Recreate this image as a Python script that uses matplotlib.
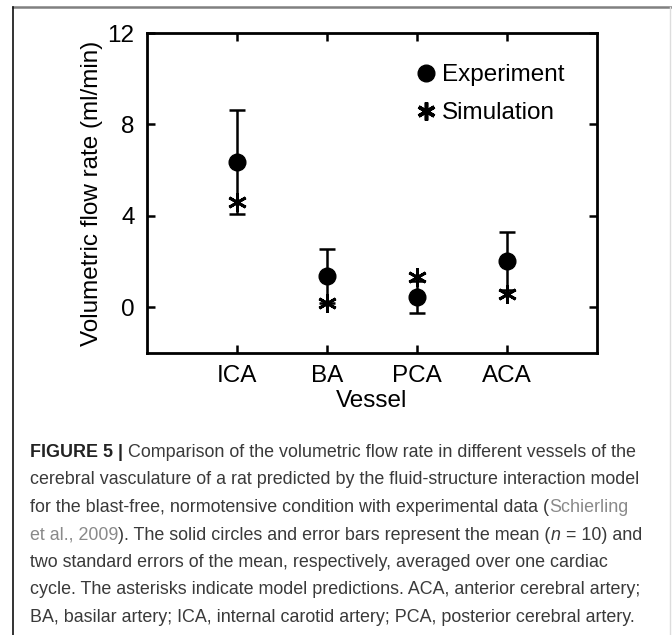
import matplotlib
matplotlib.use("Agg")
import matplotlib.pyplot as plt
from matplotlib.lines import Line2D
from matplotlib import font_manager

vessels = ["ICA", "BA", "PCA", "ACA"]
exp_mean = [6.35, 1.36, 0.45, 2.03]
exp_err = [2.28, 1.18, 0.70, 1.27]
sim_vals = [4.60, 0.20, 1.33, 0.60]
y_ticks = [0, 4, 8, 12]

caption_lines = [
    [("FIGURE 5 |", "bold", "#222222", "normal"),
     (" Comparison of the volumetric flow rate in different vessels of the", "normal", "#3a3a3a", "normal")],
    [("cerebral vasculature of a rat predicted by the fluid-structure interaction model", "normal", "#3a3a3a", "normal")],
    [("for the blast-free, normotensive condition with experimental data (", "normal", "#3a3a3a", "normal"),
     ("Schierling", "normal", "#8a8a8a", "normal")],
    [("et al., 2009", "normal", "#8a8a8a", "normal"),
     ("). The solid circles and error bars represent the mean (", "normal", "#3a3a3a", "normal"),
     ("n", "normal", "#3a3a3a", "italic"),
     (" = 10) and", "normal", "#3a3a3a", "normal")],
    [("two standard errors of the mean, respectively, averaged over one cardiac", "normal", "#3a3a3a", "normal")],
    [("cycle. The asterisks indicate model predictions. ACA, anterior cerebral artery;", "normal", "#3a3a3a", "normal")],
    [("BA, basilar artery; ICA, internal carotid artery; PCA, posterior cerebral artery.", "normal", "#3a3a3a", "normal")],
]

names = {f.name for f in font_manager.fontManager.ttflist}
cap_font = "Liberation Sans Narrow" if "Liberation Sans Narrow" in names else "Liberation Sans"
plt.rcParams["font.family"] = "Liberation Sans"

W, H = 672, 635
fig = plt.figure(figsize=(W / 100, H / 100), dpi=100)
ax = fig.add_axes([147 / W, 1 - 353 / H, 450 / W, 320 / H])

x = list(range(1, len(vessels) + 1))
star = (6, 2, 0)

ax.errorbar(x, exp_mean, yerr=exp_err, fmt="o", color="black", ms=12,
            elinewidth=1.8, capsize=5.8, capthick=1.8, label="Experiment", zorder=3)
ax.plot(x, sim_vals, linestyle="none", marker=star, color="black", ms=13.5,
        mew=2.1, label="Simulation", zorder=4)

ax.set_xlim(0, 5)
ax.set_ylim(-2, 12)
ax.set_xticks(x)
ax.set_xticklabels(vessels)
ax.set_yticks(y_ticks)
ax.tick_params(direction="in", length=6, width=1.8, labelsize=17.5, pad=9,
               top=True, right=True)
for s in ax.spines.values():
    s.set_linewidth(2)
ax.set_xlabel("Vessel", fontsize=17.5, labelpad=2)
ax.set_ylabel("Volumetric flow rate (ml/min)", fontsize=17.5, labelpad=3)

h_exp = Line2D([], [], linestyle="none", marker="o", color="black", ms=12)
h_sim = Line2D([], [], linestyle="none", marker=star, color="black", ms=13, mew=2.6)
ax.legend([h_exp, h_sim], ["Experiment", "Simulation"], loc="upper left",
          bbox_to_anchor=(0.575, 0.94), frameon=False, fontsize=17.5,
          handlelength=0.7, handletextpad=0.3, labelspacing=0.65, borderpad=0)

# outer frame of the figure panel
fig.add_artist(Line2D([13 / W, 1], [1 - 7 / H, 1 - 7 / H], transform=fig.transFigure,
                      color="#808080", lw=1.8))
fig.add_artist(Line2D([13 / W, 13 / W], [0, 1 - 7 / H], transform=fig.transFigure,
                      color="#111111", lw=1.2))
fig.add_artist(Line2D([670 / W, 670 / W], [0, 1 - 7 / H], transform=fig.transFigure,
                      color="#dddddd", lw=1))

# caption
renderer = fig.canvas.get_renderer()
for i, pieces in enumerate(caption_lines):
    xpos = 30
    ypos = 457 + 27.5 * i
    for txt, weight, col, style in pieces:
        t = fig.text(xpos / W, 1 - ypos / H, txt, fontsize=12.9, family=cap_font,
                     weight=weight, color=col, style=style, va="baseline", ha="left")
        bb = t.get_window_extent(renderer)
        xpos += bb.width

fig.savefig("out.png", dpi=100)
